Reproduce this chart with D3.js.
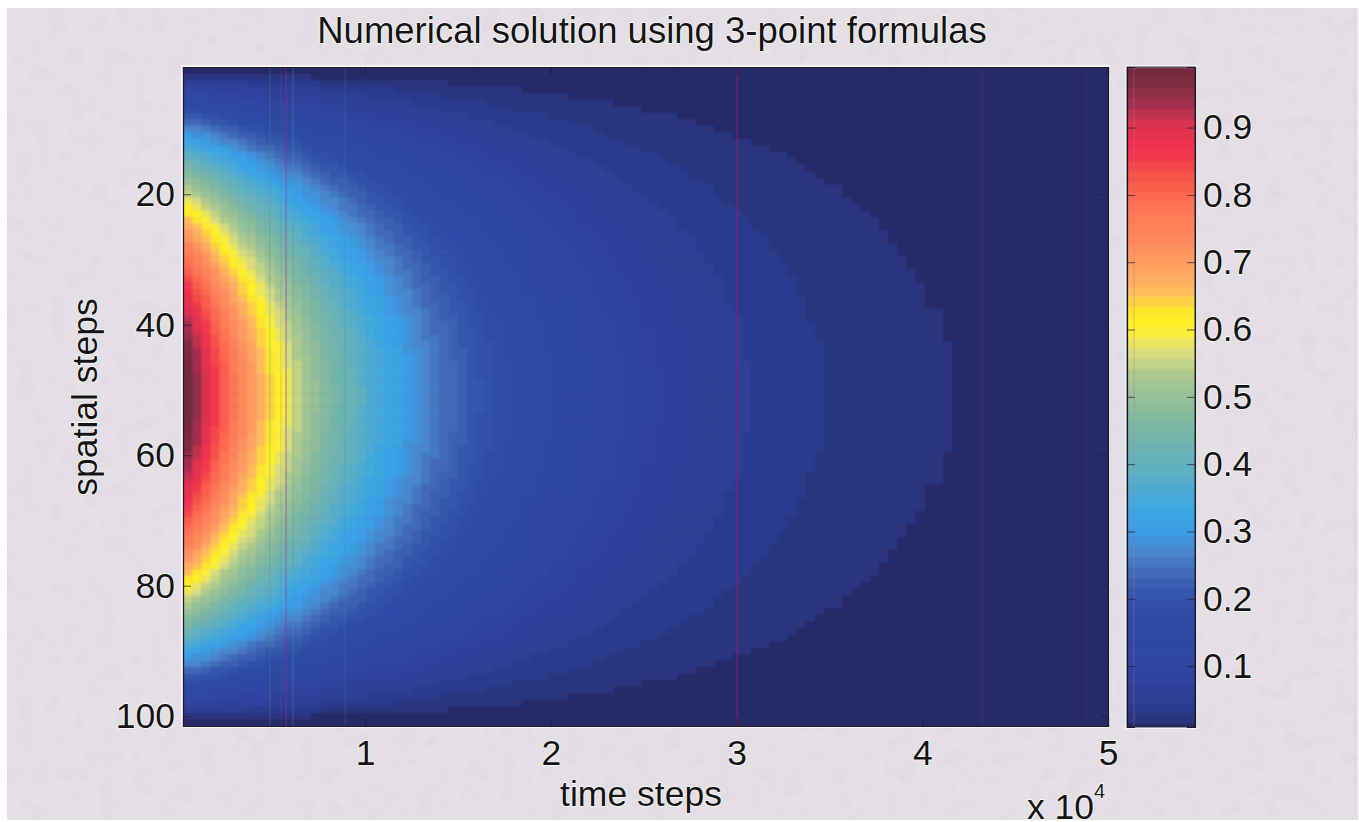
<!DOCTYPE html>
<html>
<head>
<meta charset="utf-8">
<script src="https://cdn.jsdelivr.net/npm/d3@7"></script>
<style>
  html, body { margin: 0; padding: 0; background: #fff; }
  svg { display: block; }
  text { font-family: "Liberation Sans", Arial, sans-serif; fill: #141414; stroke: #fff; stroke-width: 1.4px; paint-order: stroke; stroke-linejoin: round; }
</style>
</head>
<body>
<div id="canvas"></div>
<script>
var width = 1359;
var height = 822;

// centre row (spatial step 51) read left to right, one value per column
var timeProfile = [
  .990,.951,.905,.861,.819,.779,.741,.705,.670,.638,.607,.577,.549,.522,.497,.472,.449,.427,.407,.387,
  .368,.350,.333,.317,.301,.287,.273,.259,.247,.235,.223,.212,.202,.192,.183,.174,.165,.157,.150,.142,
  .135,.129,.122,.116,.111,.105,.100,.095,.091,.086,.082,.078,.074,.071,.067,.064,.061,.058,.055,.052,
  .050,.047,.045,.043,.041,.039,.037,.035,.033,.032,.030,.029,.027,.026,.025,.024,.022,.021,.020,.019,
  .018,.017,.017,.016,.015,.014,.014,.013,.012,.012,.011,.011,.010,.010,.009,.009,.009,.008,.008,.007,.007
];

// relative height down the upper half of a column, rows 1 to 51 (lower half mirrors it)
var spaceProfile = [
  .000,.031,.063,.094,.125,.156,.187,.218,.249,.279,.309,.339,.368,.397,.426,.454,.482,.509,.536,.562,
  .588,.613,.637,.661,.685,.707,.729,.750,.771,.790,.809,.827,.844,.861,.876,.891,.905,.918,.930,.941,
  .951,.960,.969,.976,.982,.988,.992,.995,.998,1.000,1.000
];

var xTicks = [10000, 20000, 30000, 40000, 50000];
var yTicks = [20, 40, 60, 80, 100];
var cbTicks = [0.1, 0.2, 0.3, 0.4, 0.5, 0.6, 0.7, 0.8, 0.9];

var stopValues = [0.008, 0.023, 0.039, 0.06, 0.1, 0.17, 0.19, 0.214, 0.24, 0.27, 0.305, 0.34, 0.395, 0.465, 0.53, 0.565, 0.6, 0.62, 0.66, 0.72, 0.79, 0.83, 0.87, 0.91, 0.93, 0.965, 0.99];
var stopColors = ["#282a66", "#2b3480", "#2c3b8e", "#2d4099", "#2d45a3", "#2e4aa6", "#304fa9", "#3659af", "#3f6ab8", "#4a86cc", "#38a0e8", "#40a8e0", "#60b0c0", "#80b8a0", "#a8c890", "#d8dc80", "#fff030", "#fff020", "#ffb860", "#ff9060", "#ff7050", "#f85048", "#f03050", "#d83050", "#a83050", "#7f2c40", "#6e2a3c"];

// faint vertical scan streaks: time step and colour
var streakTimes = [4880, 5480, 5750, 6120, 8920, 30030, 43220, 48870];
var streakColors = ["#3f9a8c", "#6a5aa0", "#a0308c", "#45a0a0", "#3a8a9a", "#8e1f78", "#5a3a78", "#4f3070"];
var streakOpacity = [0.3, 0.2, 0.5, 0.35, 0.25, 0.85, 0.45, 0.35];

var plot = { left: 183, right: 1108, top: 67, bottom: 726 };
var bar = { left: 1127, right: 1195, top: 67, bottom: 727 };

var svg = d3.select("#canvas").append("svg")
  .attr("width", width)
  .attr("height", height);

var defs = svg.append("defs");

// paper grain of the scanned page
var grain = defs.append("filter").attr("id", "grain")
  .attr("x", 0).attr("y", 0).attr("width", "100%").attr("height", "100%");
grain.append("feTurbulence").attr("type", "fractalNoise").attr("baseFrequency", 0.06).attr("numOctaves", 3).attr("seed", 4);
grain.append("feColorMatrix").attr("type", "matrix")
  .attr("values", "0 0 0 0 0.5  0 0 0 0 0.47  0 0 0 0 0.5  1.2 0 0 0 -0.5");

var soft = defs.append("filter").attr("id", "soft")
  .attr("x", "-1%").attr("y", "-1%").attr("width", "102%").attr("height", "102%");
soft.append("feGaussianBlur").attr("stdDeviation", 0.8);

defs.append("clipPath").attr("id", "plotClip").append("rect")
  .attr("x", plot.left).attr("y", plot.top)
  .attr("width", plot.right - plot.left).attr("height", plot.bottom - plot.top);
defs.append("clipPath").attr("id", "barClip").append("rect")
  .attr("x", bar.left).attr("y", bar.top)
  .attr("width", bar.right - bar.left).attr("height", bar.bottom - bar.top);

svg.append("rect").attr("x", 7).attr("y", 8).attr("width", 1351).attr("height", 812).attr("fill", "#e4e0e5");
svg.append("rect").attr("x", 7).attr("y", 8).attr("width", 1351).attr("height", 812).attr("filter", "url(#grain)").attr("opacity", 0.22);

// scales
var x = d3.scaleLinear().domain([200, 50000]).range([plot.left, plot.right]);
var y = d3.scaleLinear().domain([0.5, 101.5]).range([plot.top, plot.bottom]);
var cb = d3.scaleLinear().domain([0.0095, 0.99]).range([bar.bottom, bar.top]);

var columns = d3.range(timeProfile.length);
var rows = d3.range(1, 102);
var xCell = d3.scaleBand().domain(columns).range([plot.left, plot.right]);

var ramp = d3.scaleLinear().domain(stopValues).range(stopColors).interpolate(d3.interpolateRgb);
var levels = d3.range(64).map(function(i) { return (i + 0.5) * 0.99 / 64; });
var color = d3.scaleQuantize().domain([0, 0.99]).range(levels.map(ramp));

var fullSpace = spaceProfile.concat(spaceProfile.slice(0, 50).reverse());

var cells = [];
rows.forEach(function(r) {
  columns.forEach(function(c) {
    cells.push({ r: r, c: c, v: timeProfile[c] * fullSpace[r - 1] });
  });
});

// white halo round the plot and colorbar, from the scan sharpening
svg.append("rect").attr("x", plot.left - 2).attr("y", plot.top - 2)
  .attr("width", plot.right - plot.left + 4).attr("height", plot.bottom - plot.top + 4).attr("fill", "#f6f4f6");
svg.append("rect").attr("x", bar.left - 2).attr("y", bar.top - 2)
  .attr("width", bar.right - bar.left + 4).attr("height", bar.bottom - bar.top + 4).attr("fill", "#f6f4f6");

var heat = svg.append("g").attr("clip-path", "url(#plotClip)").append("g").attr("filter", "url(#soft)");
heat.append("rect").attr("x", plot.left - 4).attr("y", plot.top - 4)
  .attr("width", plot.right - plot.left + 8).attr("height", plot.bottom - plot.top + 8).attr("fill", "#282a66");
heat.selectAll("rect.cell")
  .data(cells)
  .enter().append("rect")
  .attr("class", "cell")
  .attr("x", function(d) { return xCell(d.c); })
  .attr("y", function(d) { return y(d.r - 0.5); })
  .attr("width", xCell.bandwidth() + 0.5)
  .attr("height", y(2) - y(1) + 0.5)
  .attr("fill", function(d) { return color(d.v); });

svg.selectAll("line.streak")
  .data(streakTimes)
  .enter().append("line")
  .attr("class", "streak")
  .attr("x1", function(d) { return x(d); })
  .attr("x2", function(d) { return x(d); })
  .attr("y1", plot.top)
  .attr("y2", plot.bottom)
  .attr("stroke", function(d, i) { return streakColors[i]; })
  .attr("stroke-opacity", function(d, i) { return streakOpacity[i]; })
  .attr("stroke-width", 1.2);

// colorbar
var barG = svg.append("g").attr("clip-path", "url(#barClip)").append("g").attr("filter", "url(#soft)");
barG.selectAll("rect")
  .data(color.range())
  .enter().append("rect")
  .attr("x", bar.left - 4)
  .attr("width", bar.right - bar.left + 8)
  .attr("y", function(d) { return cb(color.invertExtent(d)[1]); })
  .attr("height", function(d) { return cb(color.invertExtent(d)[0]) - cb(color.invertExtent(d)[1]) + 0.5; })
  .attr("fill", function(d) { return d; });
svg.append("line").attr("x1", 1134).attr("x2", 1134).attr("y1", bar.top).attr("y2", bar.bottom)
  .attr("stroke", "#c0708c").attr("stroke-opacity", 0.4);

// axes
function styleAxis(g, size) {
  g.select(".domain").attr("stroke", "#1c1c28").attr("stroke-width", 1.2);
  g.selectAll(".tick line").attr("stroke", "#1c1c28").attr("stroke-opacity", 0.7);
  g.selectAll(".tick text").attr("font-size", size);
}

var noLabel = function() { return ""; };

svg.append("g").attr("transform", "translate(0," + plot.bottom + ")")
  .call(d3.axisBottom(x).tickValues(xTicks).tickSize(-8).tickPadding(14).tickFormat(function(d) { return d / 10000; }))
  .call(styleAxis, 35.5);
svg.append("g").attr("transform", "translate(0," + plot.top + ")")
  .call(d3.axisTop(x).tickValues(xTicks).tickSize(-8).tickFormat(noLabel))
  .call(styleAxis, 35.5);
svg.append("g").attr("transform", "translate(" + plot.left + ",0)")
  .call(d3.axisLeft(y).tickValues(yTicks).tickSize(-8).tickPadding(8))
  .call(styleAxis, 35.5);
svg.append("g").attr("transform", "translate(" + plot.right + ",0)")
  .call(d3.axisRight(y).tickValues(yTicks).tickSize(-8).tickFormat(noLabel))
  .call(styleAxis, 35.5);

svg.append("g").attr("transform", "translate(" + bar.right + ",0)")
  .call(d3.axisRight(cb).tickValues(cbTicks).tickSize(-8).tickPadding(8).tickFormat(d3.format(".1f")))
  .call(styleAxis, 35.5);
svg.append("g").attr("transform", "translate(" + bar.left + ",0)")
  .call(d3.axisLeft(cb).tickValues(cbTicks).tickSize(-8).tickFormat(noLabel))
  .call(styleAxis, 35.5);
svg.append("rect").attr("x", bar.left).attr("y", bar.top)
  .attr("width", bar.right - bar.left).attr("height", bar.bottom - bar.top)
  .attr("fill", "none").attr("stroke", "#1c1c28").attr("stroke-opacity", 0.8);

// labels
svg.append("text").attr("x", 652).attr("y", 43).attr("text-anchor", "middle").attr("font-size", 36.5)
  .text("Numerical solution using 3-point formulas");
svg.append("text").attr("x", 641).attr("y", 806).attr("text-anchor", "middle").attr("font-size", 35.5)
  .text("time steps");
svg.append("text").attr("transform", "translate(97,397) rotate(-90)").attr("text-anchor", "middle").attr("font-size", 35.5)
  .text("spatial steps");
svg.append("text").attr("x", 1027).attr("y", 819).attr("font-size", 35.5).text("x 10");
svg.append("text").attr("x", 1094).attr("y", 798).attr("font-size", 20).text("4");
</script>
</body>
</html>
